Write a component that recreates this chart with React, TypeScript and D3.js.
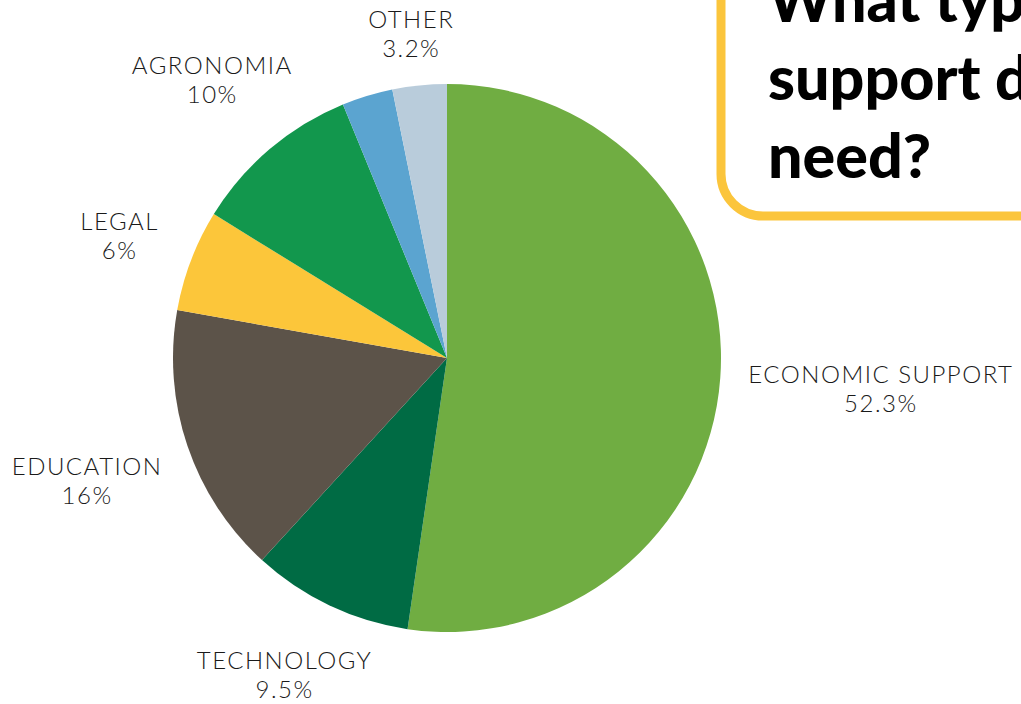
import React from "react";
import * as d3 from "d3";

const categories = ["ECONOMIC SUPPORT", "TECHNOLOGY", "EDUCATION", "LEGAL", "AGRONOMIA", "", "OTHER"];
const values = [52.3, 9.5, 16, 6, 10, 3.0, 3.2];
const valueLabels = ["52.3%", "9.5%", "16%", "6%", "10%", "", "3.2%"];
const colors = ["#70AD42", "#006B44", "#5C5349", "#FCC63A", "#12974D", "#5BA4D0", "#B9CCDB"];
const titleLines = ["What type of", "support do you", "need?"];
// layout nudges for label boxes (px)
const labelNudge: [number, number][] = [[5, 7], [0, 26], [-9, 19], [-13, -8], [5, -34], [0, 0], [-2, -5]];

export default function App() {
  const W = 1021, H = 704;
  const cx = 447, cy = 358, r = 274;
  const pie = d3.pie<number>().sort(null).value((d) => d);
  const arcs = pie(values);
  const arc = d3.arc<d3.PieArcDatum<number>>().innerRadius(0).outerRadius(r);
  const gap = 20;
  const fs = 24;
  const lh = 30;

  return (
    <svg width={W} height={H} style={{ position: "absolute", left: 0, top: 0, background: "#fff" }}>
      <g transform={`translate(${cx},${cy})`}>
        {arcs.map((a, i) => (
          <path key={i} d={arc(a) || ""} fill={colors[i]} />
        ))}
      </g>
      {arcs.map((a, i) => {
        if (!categories[i]) return null;
        const mid = (a.startAngle + a.endAngle) / 2;
        const dx = Math.sin(mid), dy = -Math.cos(mid);
        const w = categories[i].length * 17;
        const h = 55;
        const bx = cx + dx * (r + gap) + (dx * w) / 2 + labelNudge[i][0];
        const by = cy + dy * (r + gap) + (dy * h) / 2 + labelNudge[i][1];
        return (
          <text key={i} x={bx} textAnchor="middle" fontFamily="Lato, sans-serif" fontWeight={300}
            fontSize={fs} fill="#1a1a1a" letterSpacing={1.5}>
            <tspan x={bx} y={by - 5}>{categories[i]}</tspan>
            <tspan x={bx} y={by - 6 + lh}>{valueLabels[i]}</tspan>
          </text>
        );
      })}
      <rect x={721} y={-100} width={420} height={316} rx={42} ry={42} fill="#fff" stroke="#FBC53C" strokeWidth={9} />
      <text fontFamily="Lato, sans-serif" fontWeight={900} fontSize={61} fill="#000">
        {titleLines.map((t, i) => (
          <tspan key={i} x={768} y={22 + i * 78}>{t}</tspan>
        ))}
      </text>
    </svg>
  );
}
